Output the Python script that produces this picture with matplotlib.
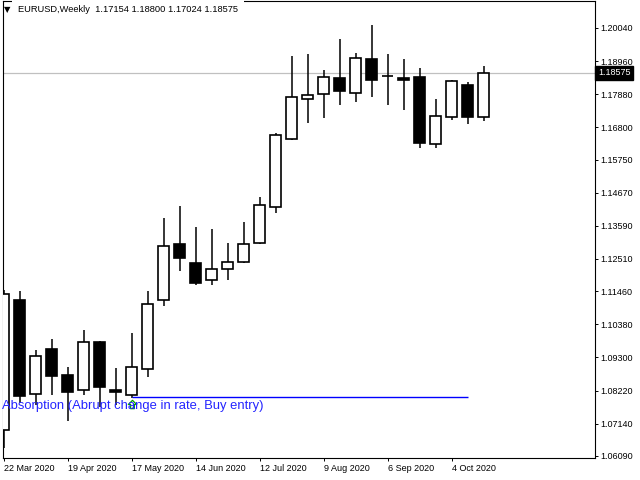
import matplotlib
matplotlib.use("Agg")
import matplotlib.pyplot as plt
from matplotlib.path import Path
from matplotlib.transforms import blended_transform_factory

# weekly EURUSD candles, 22 Mar 2020 .. 18 Oct 2020
weeks = ['22 Mar 2020', '29 Mar 2020', '5 Apr 2020', '12 Apr 2020', '19 Apr 2020',
         '26 Apr 2020', '3 May 2020', '10 May 2020', '17 May 2020', '24 May 2020',
         '31 May 2020', '7 Jun 2020', '14 Jun 2020', '21 Jun 2020', '28 Jun 2020',
         '5 Jul 2020', '12 Jul 2020', '19 Jul 2020', '26 Jul 2020', '2 Aug 2020',
         '9 Aug 2020', '16 Aug 2020', '23 Aug 2020', '30 Aug 2020', '6 Sep 2020',
         '13 Sep 2020', '20 Sep 2020', '27 Sep 2020', '4 Oct 2020', '11 Oct 2020',
         '18 Oct 2020']
opens = [1.06935, 1.11173, 1.08108, 1.09575, 1.08728, 1.08239, 1.09804, 1.08239,
         1.08076, 1.08923, 1.11173, 1.12998, 1.12379, 1.11825, 1.12183, 1.12412,
         1.13031, 1.14205, 1.16421, 1.17725, 1.17888, 1.18410, 1.17921, 1.19029,
         1.18460, 1.18410, 1.18443, 1.16258, 1.17139, 1.18182, 1.17154]
highs = [1.11499, 1.11466, 1.09543, 1.09901, 1.08989, 1.10195, 1.09850, 1.08956,
         1.10097, 1.11466, 1.13846, 1.14237, 1.13553, 1.13487, 1.13031, 1.13716,
         1.14531, 1.16617, 1.19127, 1.19192, 1.18671, 1.19681, 1.19225, 1.20138,
         1.19192, 1.19029, 1.18736, 1.17725, 1.18345, 1.18280, 1.18800]
lows = [1.06348, 1.07815, 1.07750, 1.08076, 1.07228, 1.08076, 1.07685, 1.07750,
        1.07978, 1.08663, 1.10977, 1.12118, 1.11662, 1.11662, 1.11825, 1.12379,
        1.12998, 1.14009, 1.16400, 1.16943, 1.17106, 1.17530, 1.17628, 1.17791,
        1.17530, 1.17367, 1.16128, 1.16128, 1.17041, 1.16910, 1.17024]
closes = [1.11368, 1.08043, 1.09347, 1.08695, 1.08174, 1.09804, 1.08337, 1.08174,
          1.08989, 1.11042, 1.12933, 1.12542, 1.11727, 1.12183, 1.12412, 1.12998,
          1.14270, 1.16552, 1.17791, 1.17856, 1.18443, 1.17986, 1.19062, 1.18345,
          1.18475, 1.18345, 1.16291, 1.17171, 1.18312, 1.17139, 1.18575]

y_ticks = [1.20040, 1.18960, 1.17880, 1.16800, 1.15750, 1.14670, 1.13590,
           1.12510, 1.11460, 1.10380, 1.09300, 1.08220, 1.07140, 1.06090]

# signal object
signal_text = 'Absorption (Abrupt change in rate, Buy entry)'
signal_start = 8
signal_end = 29
signal_price = 1.08011

font = ['Liberation Sans', 'DejaVu Sans']
plt.rcParams['font.family'] = font

fig = plt.figure(figsize=(6.4, 4.8), dpi=100)
ax = fig.add_axes([2.5 / 640, 22 / 480, 592 / 640, 457 / 480])

n = len(opens)
x = list(range(n))
bull = [c >= o for o, c in zip(opens, closes)]

# wicks
ax.vlines(x, lows, highs, color='black', linewidth=1.1, zorder=2)
# bodies
bottoms = [min(o, c) for o, c in zip(opens, closes)]
heights = [abs(c - o) for o, c in zip(opens, closes)]
faces = ['white' if b else 'black' for b in bull]
ax.bar(x, heights, bottom=bottoms, width=0.63, color=faces,
       edgecolor='black', linewidth=1.2, zorder=3)

# current price line
ax.axhline(closes[-1], color='#c0c0c0', linewidth=0.9, zorder=1)

# signal line, arrow and text
ax.hlines(signal_price, signal_start, signal_end, color='#0000ff', linewidth=1.0, zorder=4)
arrow = Path([(0, 1), (1, 0), (0.45, 0), (0.45, -1), (-0.45, -1), (-0.45, 0), (-1, 0), (0, 1)],
             [Path.MOVETO] + [Path.LINETO] * 6 + [Path.CLOSEPOLY])
ax.plot(signal_start, lows[signal_start] - 0.0020, marker=arrow, markersize=6,
        markerfacecolor='none', markeredgecolor='#00a000', markeredgewidth=0.9, zorder=5)
ax.text(-0.1, signal_price - 0.0029, signal_text, color='#2424ff', fontsize=9.4,
        ha='left', va='center', zorder=6)

ax.set_xlim(-0.0625, 36.9375)
ax.set_ylim(1.06022, 1.20920)

# axes styling
for s in ax.spines.values():
    s.set_color('black')
    s.set_linewidth(0.8)

ax.yaxis.tick_right()
ax.set_yticks(y_ticks)
ax.set_yticklabels([f'{v:.5f}' for v in y_ticks])
ax.tick_params(axis='y', direction='out', length=2, width=0.7, pad=2.5,
               labelsize=6.5, colors='black')

tick_idx = x[::4][:8]
ax.set_xticks(tick_idx)
ax.set_xticklabels([weeks[i] for i in tick_idx], ha='left')
ax.tick_params(axis='x', direction='out', length=2, width=0.7, pad=2,
               labelsize=6.5, colors='black')

# current price label
tr = blended_transform_factory(ax.transAxes, ax.transData)
ax.text(1.006, closes[-1], f'{closes[-1]:.5f}', transform=tr, color='white',
        fontsize=6.5, ha='left', va='center', clip_on=False,
        bbox=dict(boxstyle='square,pad=0.3', facecolor='black', edgecolor='black'))

# header
header = f'EURUSD,Weekly  {opens[-1]:.5f} {highs[-1]:.5f} {lows[-1]:.5f} {closes[-1]:.5f}'
fig.text(4 / 640, 1 - 10 / 480, '\u25bc', fontsize=6, family='DejaVu Sans',
         ha='left', va='center', zorder=11)
fig.text(18 / 640, 1 - 10 / 480, header, fontsize=6.7, ha='left', va='center',
         zorder=10, bbox=dict(boxstyle='square,pad=0.6', facecolor='white', edgecolor='none'))

fig.savefig('out.png', dpi=100)
